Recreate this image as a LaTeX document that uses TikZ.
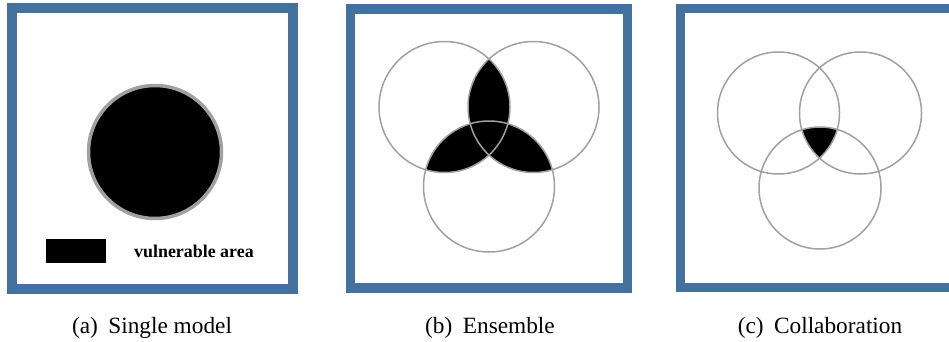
\documentclass[tikz,border=0pt]{standalone}
\usepackage{fontspec}
\setmainfont{Liberation Serif}
\usepackage{xcolor}
\usepackage{tikz}
\usetikzlibrary{positioning}

\definecolor{frameblue}{RGB}{68,114,158}
\definecolor{ringgray}{RGB}{160,160,160}

\begin{document}
\begin{tikzpicture}[
    x=1pt, y=1pt,
    panel/.style={draw=frameblue, line width=9.5pt},
    model/.style={draw=ringgray, line width=1.5pt},
    caption/.style={anchor=base, font=\fontsize{23.3}{27}\selectfont, inner sep=0pt},
    legend/.style={anchor=base west, font=\fontsize{17.9}{21}\selectfont\bfseries, inner sep=0pt}
]
    \clip (0,0) rectangle (949,341);

    % (a) single model
    \draw[panel] (12,52) rectangle (293,333);
    \coordinate (single) at (155,189);
    \fill[black] (single) circle (66.5);
    \draw[draw=ringgray, line width=3.5pt] (single) circle (66.5);
    \fill[black] (46,78) rectangle (106,102);
    \node[legend] (vuln) at (134,84) {vulnerable area};
    \node[caption] (capA) at (152,8) {(a)\hspace{0.45em}Single model};

    % (b) ensemble
    \draw[panel] (350.5,53) rectangle (627.5,332);
    \coordinate (eL) at (444.5,234);
    \coordinate (eR) at (533.5,234);
    \coordinate (eB) at (489,154.5);
    \begin{scope}
        \clip (eL) circle (65.5);
        \fill[black] (eR) circle (65.5);
        \fill[black] (eB) circle (65.5);
    \end{scope}
    \begin{scope}
        \clip (eR) circle (65.5);
        \fill[black] (eB) circle (65.5);
    \end{scope}
    \foreach \c in {eL,eR,eB}
        \draw[model] (\c) circle (65.5);
    \node[caption] (capB) at (490,8) {(b)\hspace{0.45em}Ensemble};

    % (c) collaboration
    \draw[panel] (680.5,53.5) rectangle (958,332.5);
    \coordinate (cL) at (778.5,228);
    \coordinate (cR) at (860.5,228);
    \coordinate (cB) at (820,153);
    \begin{scope}
        \clip (cL) circle (61);
        \clip (cR) circle (61);
        \fill[black] (cB) circle (61);
    \end{scope}
    \foreach \c in {cL,cR,cB}
        \draw[model] (\c) circle (61);
    \node[caption] (capC) at (820,8) {(c)\hspace{0.45em}Collaboration};
\end{tikzpicture}
\end{document}
